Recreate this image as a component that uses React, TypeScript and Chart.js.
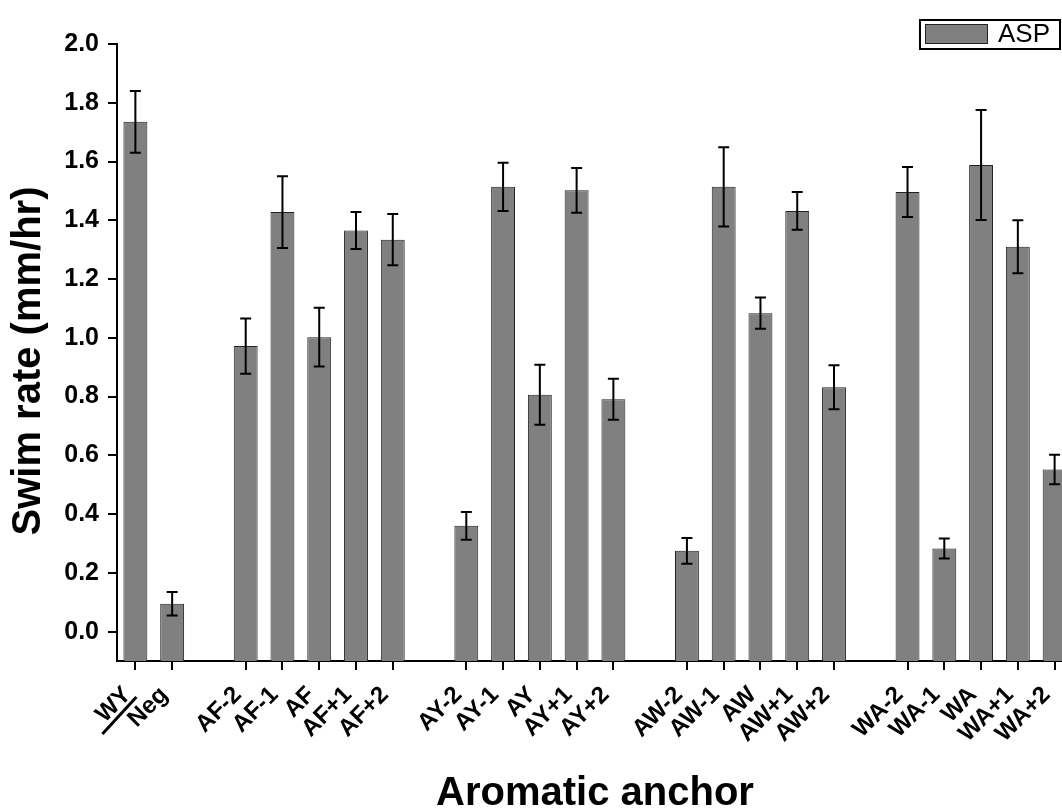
import React, { useEffect, useRef } from 'react';
import { Chart, registerables } from 'chart.js';

Chart.register(...registerables);

const FONT = '"Liberation Sans", Arial, Helvetica, sans-serif';

const CATEGORIES = [
  'WY', 'Neg', '',
  'AF-2', 'AF-1', 'AF', 'AF+1', 'AF+2', '',
  'AY-2', 'AY-1', 'AY', 'AY+1', 'AY+2', '',
  'AW-2', 'AW-1', 'AW', 'AW+1', 'AW+2', '',
  'WA-2', 'WA-1', 'WA', 'WA+1', 'WA+2',
];

const SWIM_RATE = [
  1.735, 0.095, null,
  0.972, 1.428, 1.002, 1.365, 1.334, null,
  0.36, 1.514, 0.806, 1.502, 0.791, null,
  0.275, 1.514, 1.084, 1.432, 0.832, null,
  1.496, 0.283, 1.588, 1.31, 0.552,
];

const SWIM_ERR = [
  0.105, 0.04, null,
  0.094, 0.122, 0.1, 0.063, 0.087, null,
  0.047, 0.082, 0.102, 0.076, 0.07, null,
  0.044, 0.135, 0.053, 0.064, 0.075, null,
  0.085, 0.034, 0.187, 0.09, 0.05,
];

const Y_TICKS = [0.0, 0.2, 0.4, 0.6, 0.8, 1.0, 1.2, 1.4, 1.6, 1.8, 2.0];
const Y_MIN = -0.1;
const Y_MAX = 2.0;

const SERIES_NAME = 'ASP';
const X_TITLE = 'Aromatic anchor';
const Y_TITLE = 'Swim rate (mm/hr)';

const BAR_FILL = '#808080';
const BAR_EDGE = '#222222';

const errorBarPlugin = {
  id: 'errorBars',
  afterDatasetsDraw(chart: any) {
    const { ctx } = chart;
    const meta = chart.getDatasetMeta(0);
    const y = chart.scales.y;
    ctx.save();
    ctx.strokeStyle = '#000';
    ctx.lineWidth = 2;
    meta.data.forEach((bar: any, i: number) => {
      const v = SWIM_RATE[i];
      const e = SWIM_ERR[i];
      if (v == null || e == null) return;
      const x = bar.x;
      const yt = y.getPixelForValue(v + e);
      const yb = y.getPixelForValue(v - e);
      const cap = 5.5;
      ctx.beginPath();
      ctx.moveTo(x, yt);
      ctx.lineTo(x, yb);
      ctx.moveTo(x - cap, yt);
      ctx.lineTo(x + cap, yt);
      ctx.moveTo(x - cap, yb);
      ctx.lineTo(x + cap, yb);
      ctx.stroke();
    });
    ctx.restore();
  },
};

const decorPlugin = {
  id: 'decor',
  afterDraw(chart: any) {
    const { ctx } = chart;
    const xs = chart.scales.x;
    const area = chart.chartArea;
    ctx.save();
    // Y axis title
    ctx.translate(29, 361);
    ctx.rotate(-Math.PI / 2);
    ctx.font = `bold 40px ${FONT}`;
    ctx.fillStyle = '#000';
    ctx.textAlign = 'center';
    ctx.textBaseline = 'middle';
    ctx.fillText(Y_TITLE, 0, 0);
    ctx.restore();

    // slash between WY and Neg
    const wx = xs.getPixelForValue(0);
    ctx.save();
    ctx.strokeStyle = '#000';
    ctx.lineWidth = 3;
    ctx.beginPath();
    ctx.moveTo(wx - 33, area.bottom + 73);
    ctx.lineTo(wx + 1, area.bottom + 36);
    ctx.stroke();
    ctx.restore();

    // legend box
    ctx.save();
    ctx.strokeStyle = '#000';
    ctx.lineWidth = 2;
    ctx.strokeRect(920, 20, 140, 29);
    ctx.fillStyle = BAR_FILL;
    ctx.fillRect(925, 24, 63, 20);
    ctx.strokeStyle = BAR_EDGE;
    ctx.lineWidth = 1;
    ctx.strokeRect(925.5, 24.5, 62, 19);
    ctx.fillStyle = '#000';
    ctx.font = `26px ${FONT}`;
    ctx.textAlign = 'left';
    ctx.textBaseline = 'alphabetic';
    ctx.fillText(SERIES_NAME, 998, 42);
    ctx.restore();
  },
};

export default function App() {
  const canvasRef = useRef<HTMLCanvasElement | null>(null);

  useEffect(() => {
    if (!canvasRef.current) return;
    const chart = new Chart(canvasRef.current, {
      type: 'bar',
      data: {
        labels: CATEGORIES,
        datasets: [
          {
            label: SERIES_NAME,
            data: SWIM_RATE as any,
            base: Y_MIN,
            backgroundColor: BAR_FILL,
            borderColor: BAR_EDGE,
            borderWidth: 1,
            barPercentage: 0.65,
            categoryPercentage: 1.0,
          } as any,
        ],
      },
      options: {
        responsive: false,
        animation: false,
        layout: { padding: { left: 0, top: 44, right: 27, bottom: 0 } },
        plugins: {
          legend: { display: false },
          tooltip: { enabled: false },
        },
        scales: {
          x: {
            type: 'category',
            offset: true,
            grid: {
              display: true,
              drawOnChartArea: false,
              drawTicks: true,
              offset: false,
              tickLength: 9,
              tickWidth: 2,
              lineWidth: 2,
              color: '#000',
              tickColor: (c: any) => (CATEGORIES[c.index] ? '#000' : 'rgba(0,0,0,0)'),
            },
            border: { display: true, color: '#000', width: 2 },
            ticks: {
              autoSkip: false,
              maxRotation: 45,
              minRotation: 45,
              color: '#000',
              padding: 11,
              labelOffset: -8,
              font: { family: FONT, size: 24, weight: 'bold' },
            },
            title: {
              display: true,
              text: X_TITLE,
              color: '#000',
              font: { family: FONT, size: 40, weight: 'bold', lineHeight: 1 },
              padding: { top: 0, bottom: -5 },
            },
            afterFit: (s: any) => {
              s.height = 148;
            },
          } as any,
          y: {
            type: 'linear',
            min: Y_MIN,
            max: Y_MAX,
            afterBuildTicks: (s: any) => {
              s.ticks = Y_TICKS.map((v) => ({ value: v }));
            },
            grid: {
              display: true,
              drawOnChartArea: false,
              drawTicks: true,
              tickLength: 9,
              tickWidth: 2,
              lineWidth: 2,
              color: '#000',
              tickColor: '#000',
            },
            border: { display: true, color: '#000', width: 2 },
            ticks: {
              color: '#000',
              padding: 9,
              font: { family: FONT, size: 25, weight: 'bold' },
              callback: (v: any) => Number(v).toFixed(1),
            },
            afterFit: (s: any) => {
              s.width = 117;
            },
          } as any,
        },
      },
      plugins: [errorBarPlugin, decorPlugin],
    });
    return () => chart.destroy();
  }, []);

  return (
    <div
      style={{
        position: 'fixed',
        left: 0,
        top: 0,
        width: 1062,
        height: 809,
        overflow: 'hidden',
        background: '#fff',
      }}
    >
      <canvas ref={canvasRef} width={1100} height={809} style={{ display: 'block' }} />
    </div>
  );
}
